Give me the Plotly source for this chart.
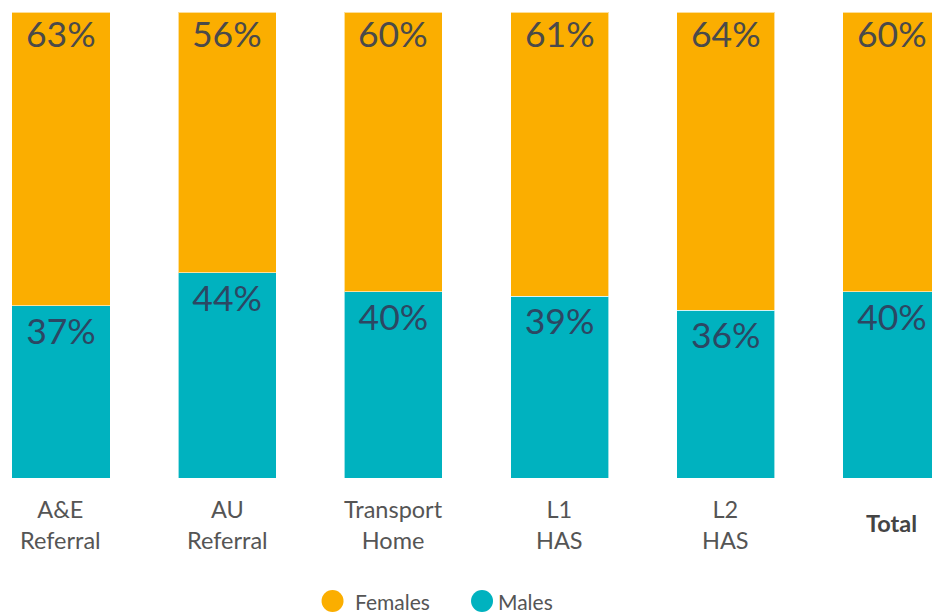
import plotly.graph_objects as go

label_line1 = ["A&E", "AU", "Transport", "L1", "L2", "<b>Total</b>"]
label_line2 = ["Referral", "Referral", "Home", "HAS", "HAS", ""]
males = [37, 44, 40, 39, 36, 40]
females = [63, 56, 60, 61, 64, 60]
series_names = ["Females", "Males"]

orange = "#FBAE00"
teal = "#00B2BF"
x = list(range(len(label_line1)))

fig = go.Figure()
fig.add_trace(go.Bar(
    x=x, y=males, name=series_names[1],
    marker=dict(color=teal, line=dict(color="rgba(255,255,255,0.6)", width=1)),
    text=[f"{v}%" for v in males], textposition="inside", insidetextanchor="end",
    textfont=dict(family="Lato", size=35.5, color="#2C4763"), showlegend=False,
    constraintext="none", width=0.59, textangle=0, hoverinfo="skip",
))
fig.add_trace(go.Bar(
    x=x, y=females, name=series_names[0],
    marker=dict(color=orange, line=dict(color="rgba(255,255,255,0.6)", width=1)),
    showlegend=False, width=0.59, hoverinfo="skip",
))

annotations = []
# female percentage labels at the top of each stack
for i, (m, f) in enumerate(zip(males, females)):
    annotations.append(dict(x=i, xref="x", y=m + f, yref="y", yanchor="top", yshift=2.5,
                            text=f"{f}%", showarrow=False,
                            font=dict(family="Lato", size=35.5, color="#4A4A4A")))

# category labels below the bars
for i, (l1, l2) in enumerate(zip(label_line1, label_line2)):
    if l2:
        annotations.append(dict(x=i, xref="x", y=0, yref="paper", yanchor="middle", yshift=-46.5,
                                text=f"{l1}<br>{l2}", showarrow=False,
                                font=dict(size=23.5, color="#555555")))
    else:
        annotations.append(dict(x=i, xref="x", y=0, yref="paper", yanchor="middle", yshift=-45,
                                text=l1, showarrow=False, font=dict(size=23.5, color="#444444")))

# custom legend with large circular swatches
legend_colors = [orange, teal]
legend_circle_x = [0.3568, 0.5172]
legend_text_x = [0.3788, 0.5325]
leg_y = -0.264
shapes = []
for name, col, cx, tx in zip(series_names, legend_colors, legend_circle_x, legend_text_x):
    shapes.append(dict(type="circle", xref="paper", yref="paper", xsizemode="pixel", ysizemode="pixel",
                       xanchor=cx, yanchor=leg_y, x0=-11, x1=11, y0=-11, y1=11,
                       fillcolor=col, line=dict(width=0)))
    annotations.append(dict(x=tx, xref="paper", y=leg_y, yref="paper", xanchor="left", yanchor="middle",
                            text=name, showarrow=False, font=dict(size=21, color="#555555")))

fig.update_layout(
    barmode="stack",
    width=932, height=613,
    margin=dict(l=0, r=0, t=12, b=135),
    plot_bgcolor="white", paper_bgcolor="white",
    font=dict(family="Lato", color="#555555", size=20),
    xaxis=dict(range=[-0.367, 5.241], showticklabels=False,
               showgrid=False, zeroline=False, showline=False, ticks=""),
    yaxis=dict(range=[0, 100], visible=False, showgrid=False),
    showlegend=False,
    annotations=annotations,
    shapes=shapes,
)
fig.write_html("out.html", config={"displayModeBar": False},
               post_script="document.body.style.margin='0px';document.body.style.overflow='hidden';")
